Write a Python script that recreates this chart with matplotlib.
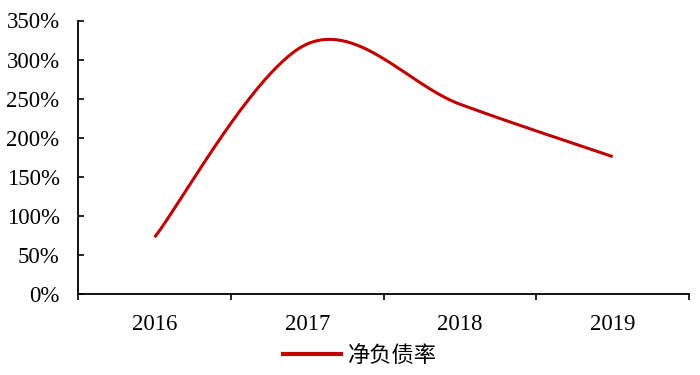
import numpy as np
import matplotlib
matplotlib.use("Agg")
import matplotlib.pyplot as plt
from matplotlib.lines import Line2D

categories = ["2016", "2017", "2018", "2019"]
values = [73, 320, 243, 176]  # 净负债率, %
series_name = "净负债率"
yticks = [0, 50, 100, 150, 200, 250, 300, 350]


def excel_smooth(x, y, n=60):
    x = np.asarray(x, float)
    y = np.asarray(y, float)
    px = np.concatenate([[x[0]], x, [x[-1]]])
    py = np.concatenate([[y[0]], y, [y[-1]]])
    xs, ys = [], []
    t = np.linspace(0, 1, n)
    for i in range(len(x) - 1):
        p0 = np.array([px[i + 1], py[i + 1]])
        p3 = np.array([px[i + 2], py[i + 2]])
        c1 = p0 + (np.array([px[i + 2], py[i + 2]]) - np.array([px[i], py[i]])) / 6
        c2 = p3 - (np.array([px[i + 3], py[i + 3]]) - np.array([px[i + 1], py[i + 1]])) / 6
        b = ((1 - t) ** 3)[:, None] * p0 + (3 * (1 - t) ** 2 * t)[:, None] * c1 \
            + (3 * (1 - t) * t ** 2)[:, None] * c2 + (t ** 3)[:, None] * p3
        xs.append(b[:, 0])
        ys.append(b[:, 1])
    return np.concatenate(xs), np.concatenate(ys)


fig = plt.figure(figsize=(7, 3.75), dpi=100)
ax = fig.add_axes([78.3 / 700, 1 - 294.3 / 375, (689 - 78.3) / 700, (294.3 - 20.5) / 375])

xpos = np.arange(len(categories))
sx, sy = excel_smooth(xpos, values)
color = "#C00000"
ax.plot(sx, sy, color=color, lw=2.2, solid_capstyle="butt")

ax.set_xlim(-0.5, len(categories) - 0.5)
ax.set_ylim(0, 350)

serif = "Liberation Serif"
ax.set_yticks(yticks)
ax.set_yticklabels([f"{v}%" for v in yticks], fontfamily=serif, fontsize=16.5)
ax.tick_params(axis="y", direction="in", length=4.5, width=1.2, pad=13.5)

ax.set_xticks(np.arange(-0.5, len(categories), 1.0))
ax.set_xticklabels([])
ax.set_xticks(xpos, minor=True)
ax.set_xticklabels(categories, minor=True, fontfamily=serif, fontsize=16.5)
ax.tick_params(axis="x", which="major", direction="out", length=4.5, width=1.2)
ax.tick_params(axis="x", which="minor", length=0, pad=14)

for s in ["top", "right"]:
    ax.spines[s].set_visible(False)
for s in ["left", "bottom"]:
    ax.spines[s].set_linewidth(1.3)
    ax.spines[s].set_color("black")

handle = Line2D([], [], color=color, lw=3)
fig.legend([handle], [series_name], loc="center", bbox_to_anchor=(360 / 700, 1 - 355 / 375),
           frameon=False, handlelength=2.6, handletextpad=0.3, borderpad=0,
           prop={"family": ["Noto Sans CJK SC", "DejaVu Sans"], "size": 16})

fig.savefig("out.png", dpi=100)
